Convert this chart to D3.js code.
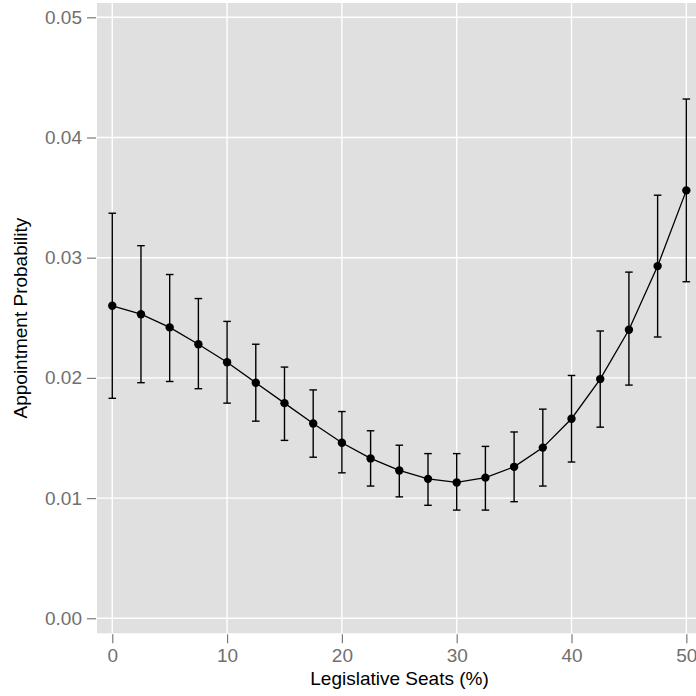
<!DOCTYPE html>
<html>
<head>
<meta charset="utf-8">
<script src="https://cdn.jsdelivr.net/npm/d3@7"></script>
<style>
  body { margin: 0; background: #fff; }
  text { font-family: "Liberation Sans", Arial, sans-serif; }
</style>
</head>
<body>
<svg id="chart" width="696" height="696"></svg>
<script>
// seats (%) and predicted appointment probability with interval bounds
const seats = [0, 2.5, 5, 7.5, 10, 12.5, 15, 17.5, 20, 22.5, 25, 27.5, 30, 32.5, 35, 37.5, 40, 42.5, 45, 47.5, 50];
const prob  = [0.0260, 0.0253, 0.0242, 0.0228, 0.0213, 0.0196, 0.0179, 0.0162, 0.0146, 0.0133, 0.0123, 0.0116, 0.0113, 0.0117, 0.0126, 0.0142, 0.0166, 0.0199, 0.0240, 0.0293, 0.0356];
const upper = [0.0337, 0.0310, 0.0286, 0.0266, 0.0247, 0.0228, 0.0209, 0.0190, 0.0172, 0.0156, 0.0144, 0.0137, 0.0137, 0.0143, 0.0155, 0.0174, 0.0202, 0.0239, 0.0288, 0.0352, 0.0432];
const lower = [0.0183, 0.0196, 0.0197, 0.0191, 0.0179, 0.0164, 0.0148, 0.0134, 0.0121, 0.0110, 0.0101, 0.0094, 0.0090, 0.0090, 0.0097, 0.0110, 0.0130, 0.0159, 0.0194, 0.0234, 0.0280];

const xTicks = [0, 10, 20, 30, 40, 50];
const yTicks = [0, 0.01, 0.02, 0.03, 0.04, 0.05];

const data = seats.map((s, i) => ({ x: s, y: prob[i], lo: lower[i], hi: upper[i] }));

const svg = d3.select("#chart");

// panel box
const panel = { left: 97, top: 3, right: 701.6, bottom: 633.3 };

const x = d3.scaleLinear().domain([-1.33, 51.33]).range([panel.left, panel.right]);
const y = d3.scaleLinear().domain([-0.00125, 0.05119]).range([panel.bottom, panel.top]);

svg.append("rect")
    .attr("x", panel.left).attr("y", panel.top)
    .attr("width", panel.right - panel.left)
    .attr("height", panel.bottom - panel.top)
    .attr("fill", "#e0e0e0");

// grid
const grid = svg.append("g").attr("stroke", "#fff").attr("stroke-width", 1.4);
grid.selectAll("line.v").data(xTicks).enter().append("line")
    .attr("x1", (d) => x(d)).attr("x2", (d) => x(d))
    .attr("y1", panel.top).attr("y2", panel.bottom);
grid.selectAll("line.h").data(yTicks).enter().append("line")
    .attr("y1", (d) => y(d)).attr("y2", (d) => y(d))
    .attr("x1", panel.left).attr("x2", panel.right);

// axes
const xAxis = svg.append("g")
    .attr("transform", `translate(0,${panel.bottom + 1})`)
    .call(d3.axisBottom(x).tickValues(xTicks).tickSize(9).tickPadding(5).tickFormat(d3.format("d")));
const yAxis = svg.append("g")
    .attr("transform", `translate(${panel.left - 1},0)`)
    .call(d3.axisLeft(y).tickValues(yTicks).tickSize(9).tickPadding(5).tickFormat(d3.format(".2f")));

[xAxis, yAxis].forEach((g) => {
    g.select(".domain").remove();
    g.selectAll(".tick line").attr("stroke", "#7a7a7a").attr("stroke-width", 1.2);
    g.selectAll(".tick text").attr("fill", "#707070").attr("font-size", 19)
        .attr("font-family", "Liberation Sans, Arial, sans-serif");
});

// error bars
const capW = 0.33;
const bars = svg.append("g").attr("stroke", "#000").attr("stroke-width", 1.4);
bars.selectAll("line.stem").data(data).enter().append("line")
    .attr("x1", (d) => x(d.x)).attr("x2", (d) => x(d.x))
    .attr("y1", (d) => y(d.lo)).attr("y2", (d) => y(d.hi));
bars.selectAll("line.top").data(data).enter().append("line")
    .attr("x1", (d) => x(d.x - capW)).attr("x2", (d) => x(d.x + capW))
    .attr("y1", (d) => y(d.hi)).attr("y2", (d) => y(d.hi));
bars.selectAll("line.bot").data(data).enter().append("line")
    .attr("x1", (d) => x(d.x - capW)).attr("x2", (d) => x(d.x + capW))
    .attr("y1", (d) => y(d.lo)).attr("y2", (d) => y(d.lo));

// line + points
svg.append("path")
    .datum(data)
    .attr("fill", "none")
    .attr("stroke", "#000")
    .attr("stroke-width", 1.3)
    .attr("d", d3.line().x((d) => x(d.x)).y((d) => y(d.y)));

svg.append("g").selectAll("circle").data(data).enter().append("circle")
    .attr("cx", (d) => x(d.x)).attr("cy", (d) => y(d.y))
    .attr("r", 4.2).attr("fill", "#000");

// titles
svg.append("text")
    .attr("x", (panel.left + 696) / 2 + 3).attr("y", 685)
    .attr("text-anchor", "middle").attr("font-size", 19).attr("fill", "#000")
    .text("Legislative Seats (%)");

svg.append("text")
    .attr("transform", `translate(27,${(panel.top + panel.bottom) / 2}) rotate(-90)`)
    .attr("text-anchor", "middle").attr("font-size", 19).attr("fill", "#000")
    .text("Appointment Probability");
</script>
</body>
</html>
